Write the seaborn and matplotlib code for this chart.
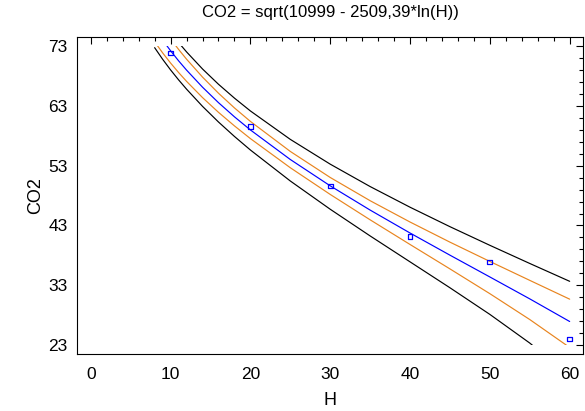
import matplotlib
matplotlib.use("Agg")
import matplotlib.pyplot as plt
from matplotlib.patches import Rectangle
from matplotlib.ticker import FixedLocator
import seaborn as sns

# ---- data ----
obs_H = [10, 20, 30, 40, 50, 60]
obs_CO2 = [71.9, 59.6, 49.6, 41.1, 36.9, 24.0]

H_grid = [8, 9, 10, 11, 12, 14, 16, 18, 20, 25, 30, 35, 40, 45, 50, 55, 60]
fit = [76.03, 74.06, 72.26, 70.58, 69.02, 66.16, 63.57, 61.20, 59.00, 54.05,
       49.64, 45.58, 41.74, 38.03, 34.38, 30.71, 26.92]
conf_upper = [78.23, 76.15, 74.25, 72.49, 70.85, 67.85, 65.15, 62.69, 60.43, 55.40,
              51.04, 47.15, 43.58, 40.21, 36.98, 33.81, 30.66]
conf_lower = [73.77, 71.91, 70.20, 68.62, 67.14, 64.42, 61.95, 59.68, 57.55, 52.67,
              48.20, 43.95, 39.82, 35.73, 31.58, 27.25, 22.57]
pred_upper = [79.15, 77.15, 75.32, 73.64, 72.07, 69.21, 66.65, 64.33, 62.18, 57.42,
              53.27, 49.52, 46.06, 42.80, 39.68, 36.64, 33.65]
pred_lower = [72.78, 70.84, 69.05, 67.39, 65.83, 62.95, 60.33, 57.91, 55.64, 50.45,
              45.72, 41.25, 36.91, 32.57, 28.11, 23.31, 17.82]

x_ticks = [0, 10, 20, 30, 40, 50, 60]
y_ticks = [23, 33, 43, 53, 63, 73]
title = "CO2 = sqrt(10999 - 2509,39*ln(H))"

# ---- styling ----
sns.set_theme(style="white")
plt.rcParams["font.family"] = ["Liberation Sans", "DejaVu Sans"]

fig = plt.figure(figsize=(5.85, 4.11), dpi=100)
ax = fig.add_axes([0.132, 0.139, 0.865, 0.770])

BLUE = "#0000FF"
ORANGE = "#E8841E"

lines_spec = [
    (pred_upper, "black"), (pred_lower, "black"),
    (conf_upper, ORANGE), (conf_lower, ORANGE),
    (fit, BLUE),
]
for vals, col in lines_spec:
    sns.lineplot(x=H_grid, y=vals, color=col, lw=0.85, estimator=None,
                 sort=False, ax=ax, legend=False)

sns.scatterplot(x=obs_H, y=obs_CO2, marker="s", s=12, facecolor="none",
                edgecolor=BLUE, linewidth=0.9, ax=ax, legend=False, zorder=5)

ax.set_xlim(-1.7, 61.7)
ax.set_ylim(21.5, 74.5)

clip = Rectangle((-1.7, 23), 63.4, 50, transform=ax.transData)
for ln in ax.lines:
    ln.set_clip_path(clip)

ax.set_xticks(x_ticks)
ax.set_yticks(y_ticks)
ax.xaxis.set_minor_locator(FixedLocator([v for v in range(0, 62, 2) if v % 10 != 0]))
ax.yaxis.set_minor_locator(FixedLocator([v for v in range(23, 74, 2) if (v - 23) % 10 != 0]))
ax.tick_params(which="both", direction="in", top=True, right=True,
               color="black", width=0.8, labelsize=12.5, labelcolor="black")
ax.tick_params(which="major", length=5)
ax.tick_params(which="minor", length=3)
ax.tick_params(axis="y", pad=7)
ax.tick_params(axis="x", pad=9.5)

for sp in ax.spines.values():
    sp.set_color("black")
    sp.set_linewidth(0.8)

ax.set_xlabel("H", fontsize=13, color="black", labelpad=7)
ax.set_ylabel("CO2", fontsize=13, color="black", labelpad=3)
ax.set_title(title, fontsize=12, color="black", pad=15)

fig.savefig("out.png", dpi=100)
